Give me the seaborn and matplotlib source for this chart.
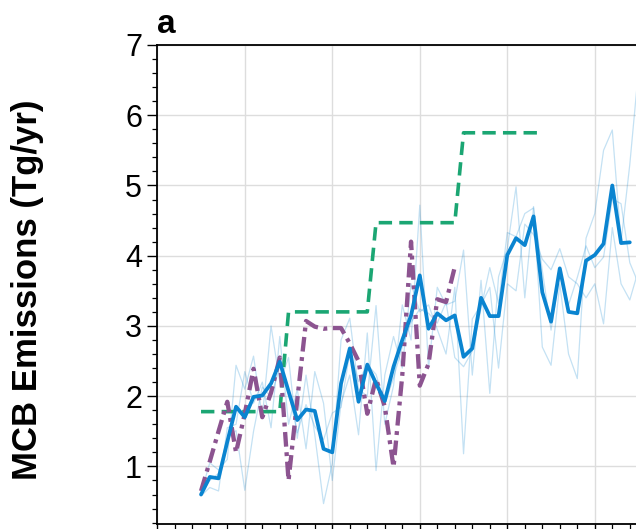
import numpy as np
import pandas as pd
import matplotlib
matplotlib.use("Agg")
import matplotlib.pyplot as plt
import seaborn as sns
from matplotlib.ticker import MultipleLocator

# ---- data ----
years_mean = list(range(2025, 2075))
mean_vals = [0.60, 0.85, 0.83, 1.35, 1.85, 1.70, 1.99, 2.01, 2.18, 2.49,
             2.07, 1.66, 1.81, 1.79, 1.25, 1.20, 2.18, 2.68, 1.92, 2.45,
             2.18, 1.93, 2.42, 2.80, 3.15, 3.72, 2.96, 3.18, 3.08, 3.15,
             2.56, 2.68, 3.40, 3.14, 3.14, 4.01, 4.25, 4.15, 4.56, 3.48,
             3.06, 3.82, 3.20, 3.18, 3.93, 4.01, 4.17, 5.00, 4.18, 4.19]

years_members = list(range(2025, 2076))
member_a = [0.62, 1.05, 0.95, 1.10, 2.44, 2.10, 2.57, 1.70, 3.00, 2.20,
            2.55, 1.40, 2.30, 1.45, 0.47, 1.04, 2.80, 3.11, 2.10, 2.00,
            3.29, 1.60, 2.15, 3.30, 2.80, 4.72, 2.40, 3.55, 3.30, 3.35,
            4.08, 2.30, 3.65, 2.04, 3.70, 4.10, 4.98, 3.40, 4.70, 2.70,
            2.44, 3.60, 2.60, 2.25, 4.25, 4.60, 5.50, 5.79, 4.20, 5.30, 6.65]
member_b = [0.58, 0.70, 0.65, 1.55, 1.60, 2.35, 1.90, 2.20, 1.55, 2.85,
            1.60, 2.10, 1.25, 2.35, 1.90, 0.80, 1.90, 2.30, 1.45, 2.90,
            0.94, 2.30, 2.85, 2.40, 3.60, 3.20, 3.30, 2.95, 2.60, 3.55,
            1.18, 3.10, 3.30, 3.55, 2.40, 3.60, 3.50, 4.45, 4.30, 3.95,
            3.80, 4.10, 3.70, 3.60, 3.40, 3.60, 3.03, 4.40, 3.60, 3.37, 3.80]
member_c = [0.60, 0.80, 0.90, 1.40, 1.51, 0.66, 1.50, 2.13, 1.99, 2.42,
            2.06, 1.48, 1.88, 1.57, 1.38, 1.76, 1.84, 2.63, 2.21, 2.45,
            2.31, 1.89, 2.26, 2.70, 3.05, 3.24, 3.18, 3.04, 3.34, 2.55,
            2.42, 2.64, 3.25, 3.83, 3.32, 4.33, 4.27, 4.60, 4.68, 3.79,
            2.94, 3.76, 3.30, 3.69, 4.14, 3.83, 3.98, 4.81, 4.74, 3.90, 3.60]

years_feedback = list(range(2025, 2055))
feedback_vals = [0.65, 1.07, 1.50, 1.92, 1.20, 1.75, 2.39, 1.70, 2.05, 2.55,
                 0.80, 1.95, 3.07, 2.99, 2.96, 2.97, 2.97, 2.75, 2.50, 1.75,
                 2.25, 1.85, 0.99, 2.30, 4.20, 2.15, 2.46, 3.38, 3.34, 3.84]

years_step = list(range(2025, 2065))
step_vals = [1.78] * 10 + [3.20] * 10 + [4.47] * 10 + [5.75] * 10

# ---- styling ----
sns.set_theme(style="ticks")
plt.rcParams['font.family'] = ['Liberation Sans', 'DejaVu Sans']
plt.rcParams['text.color'] = 'black'
plt.rcParams['axes.labelcolor'] = 'black'
plt.rcParams['xtick.color'] = 'black'
plt.rcParams['ytick.color'] = 'black'

BLUE = "#0A84D0"
PURPLE = "#8C5490"
GREEN = "#1BA673"

fig = plt.figure(figsize=(6.36, 5.29), dpi=100)
ax = fig.add_axes([0.2473, 0.00945, 0.8255, 0.9055])

members = pd.DataFrame({
    "year": years_members * 3,
    "value": member_a + member_b + member_c,
    "member": ["a"] * len(years_members) + ["b"] * len(years_members) + ["c"] * len(years_members),
})
sns.lineplot(data=members, x="year", y="value", units="member", estimator=None,
             color=BLUE, alpha=0.24, lw=0.9, ax=ax, legend=False)

sns.lineplot(x=years_step, y=step_vals, color=GREEN, lw=2.6, ax=ax,
             linestyle=(0, (3.7, 2.0)))
sns.lineplot(x=years_feedback, y=feedback_vals, color=PURPLE, lw=3.1, ax=ax,
             linestyle=(0, (3.4, 1.3, 0.9, 1.3)))
sns.lineplot(x=years_mean, y=mean_vals, color=BLUE, lw=2.7, ax=ax)

ax.set_xlim(2020, 2080)
ax.set_ylim(0.18, 7)
ax.xaxis.set_major_locator(MultipleLocator(10))
ax.xaxis.set_minor_locator(MultipleLocator(2))
ax.yaxis.set_major_locator(MultipleLocator(1))
ax.yaxis.set_minor_locator(MultipleLocator(0.2))
ax.grid(True, which="major", color="#dddddd", lw=1.0)
ax.set_axisbelow(True)

for s in ["left", "top", "bottom", "right"]:
    ax.spines[s].set_visible(True)
    ax.spines[s].set_color("black")
    ax.spines[s].set_linewidth(1.3)

ax.tick_params(axis="both", which="major", direction="out", length=7, width=1.0,
               labelsize=22, pad=4, color="black", labelcolor="black")
ax.tick_params(axis="both", which="minor", direction="out", length=3.6, width=0.9,
               color="black")
ax.set_yticks([1, 2, 3, 4, 5, 6, 7])
ax.set_yticklabels(["1", "2", "3", "4", "5", "6", "7"])
ax.set_xticklabels([])
ax.set_xlabel("")
ax.set_ylabel("MCB Emissions (Tg/yr)", fontsize=25, fontweight="bold", color="black")
ax.yaxis.set_label_coords(-0.216, 0.49)
ax.text(0.0, 1.025, "a", transform=ax.transAxes, fontsize=24, fontweight="bold",
        ha="left", va="baseline", color="black")

fig.savefig("out.png", dpi=100)
